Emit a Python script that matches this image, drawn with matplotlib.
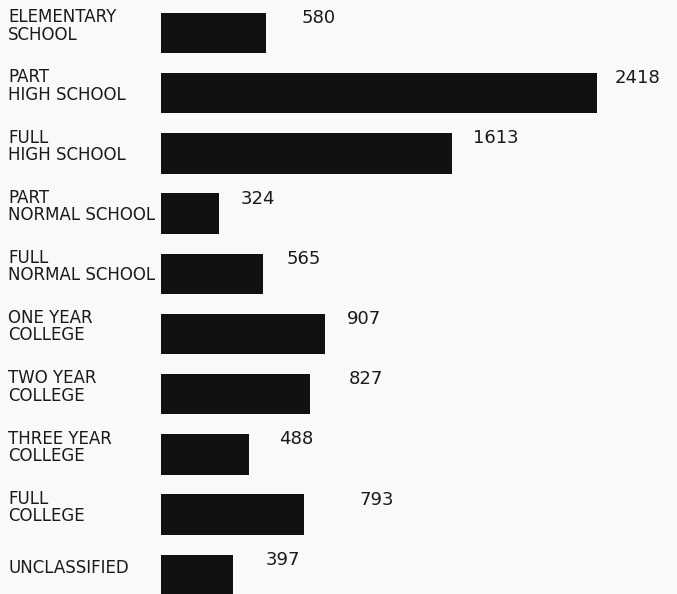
import matplotlib
matplotlib.use('Agg')
import matplotlib.pyplot as plt
import numpy as np

# schooling categories and counts
categories = ['ELEMENTARY\nSCHOOL', 'PART\nHIGH SCHOOL', 'FULL\nHIGH SCHOOL',
              'PART\nNORMAL SCHOOL', 'FULL\nNORMAL SCHOOL', 'ONE YEAR\nCOLLEGE',
              'TWO YEAR\nCOLLEGE', 'THREE YEAR\nCOLLEGE', 'FULL\nCOLLEGE',
              'UNCLASSIFIED']
counts = [580, 2418, 1613, 324, 565, 907, 827, 488, 793, 397]
value_labels = ['580', '2418', '1613', '324', '565', '907', '827', '488', '793', '397']

# hand-placed gaps (in points) between bar end and its number
label_gaps = [26, 13, 15, 15, 17, 16, 28, 22, 40, 24]

fig = plt.figure(figsize=(6.77, 5.94), dpi=100)
fig.patch.set_facecolor('#f9f9f7')
ax = fig.add_axes([161 / 677, 0, 516 / 677, 1])
ax.set_facecolor('#f9f9f7')

y = np.arange(len(categories))
ax.barh(y, counts, height=0.67, color='#111111', align='center')

ax.set_xlim(0, 516 / 0.1803)
ax.set_ylim(9.32, -0.55)
ax.axis('off')

for i, (v, lab) in enumerate(zip(counts, value_labels)):
    ax.annotate(lab, xy=(v, i - 0.25), xytext=(label_gaps[i], 0),
                textcoords='offset points', ha='left', va='center',
                fontsize=13, color='#1a1a1a')

# category names on the left, in figure coordinates
for i, cat in enumerate(categories):
    yy = ax.transData.transform((0, i - 0.12))[1]
    yfig = fig.transFigure.inverted().transform((0, yy))[1]
    fig.text(8 / 677, yfig, cat, ha='left', va='center', fontsize=12,
             color='#1a1a1a', linespacing=0.95)

plt.savefig('out.png', dpi=100, facecolor=fig.get_facecolor())
